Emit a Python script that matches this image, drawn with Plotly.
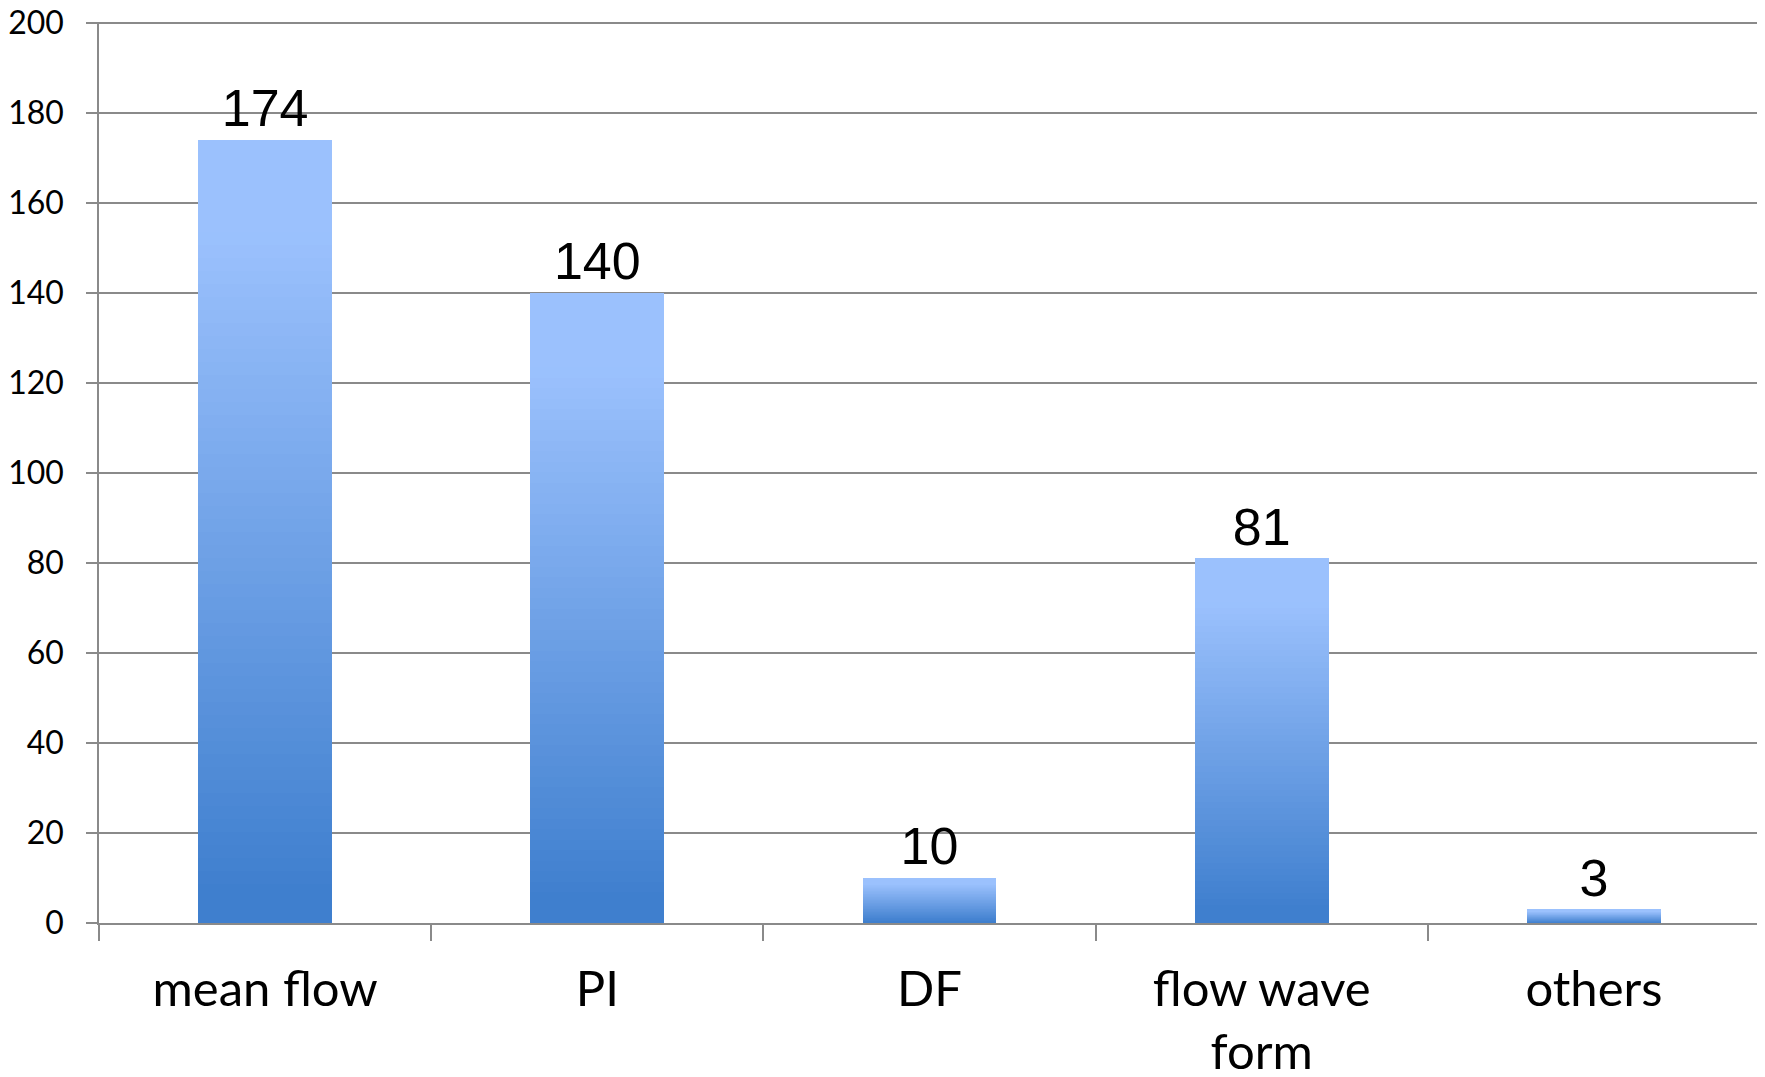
import plotly.graph_objects as go

categories = ["mean flow", "PI", "DF", "flow wave<br>form", "others"]
values = [174, 140, 10, 81, 3]
y_ticks = [0, 20, 40, 60, 80, 100, 120, 140, 160, 180, 200]

BOTTOM = (63, 127, 206)
TOP = (155, 193, 253)
N = 60

def grad(t):
    u = min(max((t - 0.04) / 0.84, 0.0), 1.0)
    c = [round(BOTTOM[i] + (TOP[i] - BOTTOM[i]) * u) for i in range(3)]
    return "rgb(%d,%d,%d)" % tuple(c)

label_font = dict(family="Liberation Sans", size=52, color="black")

fig = go.Figure()
for k in range(N):
    col = grad((k + 0.5) / N)
    last = k == N - 1
    fig.add_trace(go.Bar(
        x=categories,
        y=[v / N for v in values],
        marker=dict(color=col, line=dict(color=col, width=1)),
        text=[str(v) for v in values] if last else None,
        textposition="outside" if last else "none",
        textfont=label_font,
        outsidetextfont=label_font,
        constraintext="none",
        cliponaxis=False,
        showlegend=False,
        hoverinfo="skip",
    ))

grid = "#8a8a8a"
# page body has an 8px default margin, so the figure is sized to fit the window
fig.update_layout(
    barmode="stack",
    bargap=0.6,
    width=1757, height=1069,
    margin=dict(l=91, r=5, t=14, b=154),
    plot_bgcolor="white", paper_bgcolor="white",
)
fig.update_yaxes(
    range=[0, 200.25], tickvals=y_ticks,
    showgrid=True, gridcolor=grid, gridwidth=1.5,
    showline=True, linecolor=grid, linewidth=1.5,
    ticks="outside", ticklen=11, tickcolor=grid, tickwidth=1.5,
    zeroline=False, automargin=False,
    ticklabeloverflow="allow",
    tickfont=dict(family="Lato", size=32, color="black"),
    ticklabelstandoff=16,
)
fig.update_xaxes(
    showgrid=False, automargin=False,
    showline=True, linecolor=grid, linewidth=1.5,
    ticks="outside", ticklen=16, tickcolor=grid, tickwidth=1.5,
    tickson="boundaries",
    ticklabeloverflow="allow",
    tickfont=dict(family="Lato", size=49, color="black"),
    ticklabelstandoff=22,
)
fig.write_html("out.html")
